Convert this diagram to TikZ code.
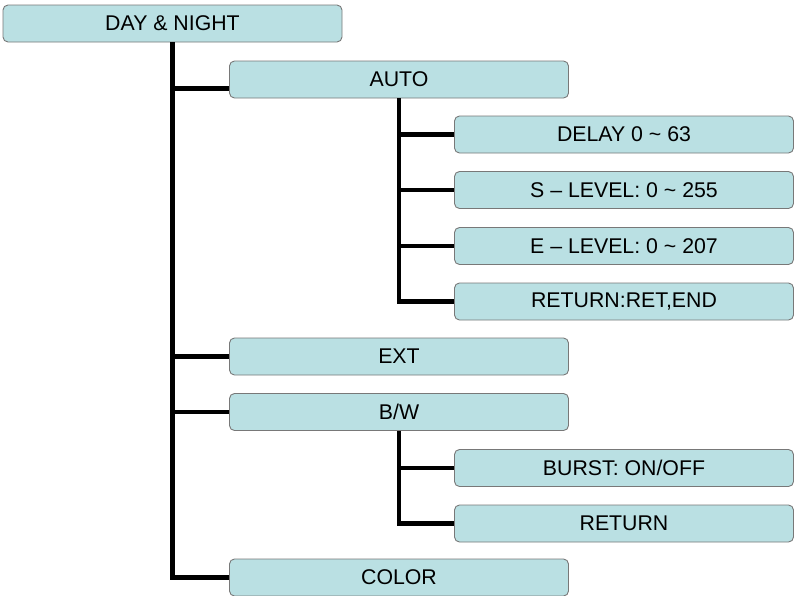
\documentclass[tikz,border=0pt]{standalone}
\usepackage{fontspec}
\setmainfont{Liberation Sans}
\definecolor{boxfill}{RGB}{186,224,227}
\definecolor{boxline}{RGB}{120,120,120}
\begin{document}
\begin{tikzpicture}[x=1pt,y=-1pt,
	menubox/.style={draw=boxline,line width=0.9pt,fill=boxfill,rounded corners=5pt,minimum width=339pt,minimum height=37pt,inner sep=0pt,font=\fontsize{21.3}{25}\selectfont},
	link/.style={line width=4.2pt}]
		\useasboundingbox (0,0) rectangle (796,595);
		%top level
		\node[menubox] (daynight) at (172.5, 23.5){DAY \& NIGHT};
		
		%second level
		\node[menubox] (auto) at (399, 79.5){AUTO};
		\node[menubox] (ext) at (399, 356.5){EXT};
		\node[menubox] (bw) at (399, 412){B/W};
		\node[menubox] (color) at (399, 577.5){COLOR};
		
		%auto items
		\node[menubox] (delay) at (624, 134.5){DELAY 0 \textasciitilde{} 63};
		\node[menubox] (slevel) at (624, 190){S -- LEVEL: 0 \textasciitilde{} 255};
		\node[menubox] (elevel) at (624, 246){E -- LEVEL: 0 \textasciitilde{} 207};
		\node[menubox] (retend) at (624, 301.5){RETURN:RET,END};
		
		%b/w items
		\node[menubox] (burst) at (624, 468){BURST: ON/OFF};
		\node[menubox] (bwret) at (624, 523.5){RETURN};
		
		%links
		\draw[link] (daynight.south) |- (color.west);
		\draw[link] (daynight.south) |- ([yshift=-9pt]auto.west);
		\draw[link] (daynight.south) |- (ext.west);
		\draw[link] (daynight.south) |- (bw.west);
		
		\draw[link] (auto.south) |- (retend.west);
		\foreach \n in {delay, slevel, elevel}{
			\draw[link] (auto.south) |- (\n.west);
		}
		
		\draw[link] (bw.south) |- (bwret.west);
		\draw[link] (bw.south) |- (burst.west);
\end{tikzpicture}
\end{document}
